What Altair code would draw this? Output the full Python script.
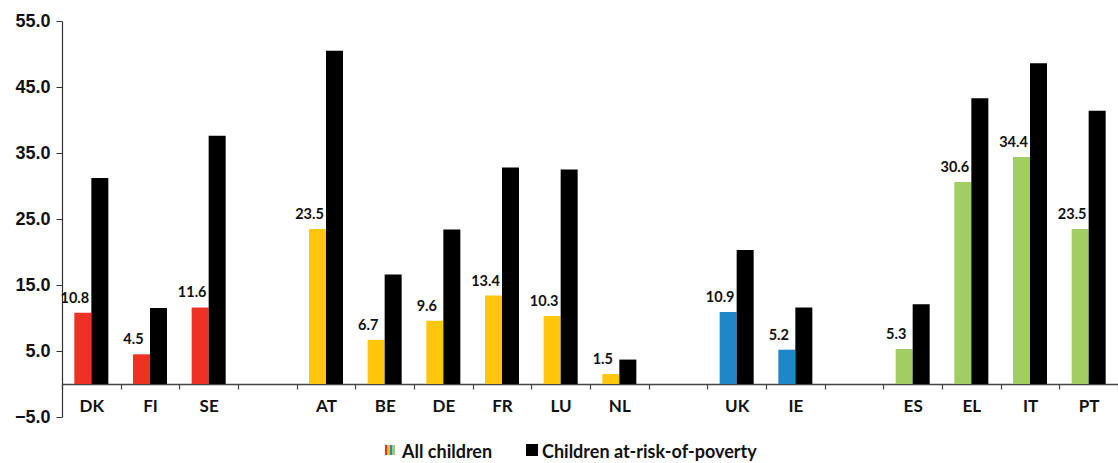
import altair as alt
import pandas as pd

# Country slots in display order; blank slots separate the country groups
slots = ["DK", "FI", "SE", " ", "AT", "BE", "DE", "FR", "LU", "NL", "  ",
         "UK", "IE", "   ", "ES", "EL", "IT", "PT"]

countries = ["DK", "FI", "SE", "AT", "BE", "DE", "FR", "LU", "NL",
             "UK", "IE", "ES", "EL", "IT", "PT"]
groups = ["Nordic", "Nordic", "Nordic",
          "Continental", "Continental", "Continental", "Continental", "Continental", "Continental",
          "Anglo", "Anglo",
          "Southern", "Southern", "Southern", "Southern"]
all_children = [10.8, 4.5, 11.6, 23.5, 6.7, 9.6, 13.4, 10.3, 1.5,
                10.9, 5.2, 5.3, 30.6, 34.4, 23.5]
at_risk = [31.2, 11.5, 37.6, 50.5, 16.6, 23.4, 32.8, 32.5, 3.7,
           20.3, 11.6, 12.1, 43.3, 48.6, 41.4]

series = ["All children", "Children at-risk-of-poverty"]
color_keys = ["Nordic", "Continental", "Anglo", "Southern", "Poverty"]
color_values = ["#EE3124", "#FFC60B", "#1F87C9", "#A1CE62", "#000000"]

rows = []
for c, g, a, p in zip(countries, groups, all_children, at_risk):
    rows.append({"country": c, "series": series[0], "value": a, "key": g,
                 "label": f"{a:.1f}"})
    rows.append({"country": c, "series": series[1], "value": p, "key": "Poverty",
                 "label": ""})
df = pd.DataFrame(rows)

W, H = 1056, 396
label_font = "Lato"

x_enc = alt.X(
    "country:N",
    sort=slots,
    scale=alt.Scale(domain=slots, paddingInner=0, paddingOuter=0),
    axis=alt.Axis(
        title=None, orient="bottom", offset=-33, tickBand="extent",
        labelAngle=0, labelFont=label_font, labelFontWeight="bold",
        labelFontSize=17, labelColor="#111111", labelPadding=9,
        tickSize=5, tickColor="#444444", domainColor="#444444",
        domainWidth=1.5, tickWidth=1.2,
    ),
)
xoff_enc = alt.XOffset(
    "series:N",
    scale=alt.Scale(domain=series, paddingInner=0, paddingOuter=0.725),
)
y_scale = alt.Scale(domain=[-5, 55], nice=False, zero=False)

bars = alt.Chart(df).mark_bar(size=17).encode(
    x=x_enc,
    xOffset=xoff_enc,
    y=alt.Y(
        "value:Q",
        scale=y_scale,
        axis=alt.Axis(
            title=None, values=[-5, 5, 15, 25, 35, 45, 55], format=".1f",
            grid=False, labelFont="Liberation Sans", labelFontWeight="bold",
            labelFontSize=18, labelColor="#111111", labelPadding=6,
            tickSize=6, tickColor="#333333", domainColor="#333333",
            domainWidth=1.2,
        ),
    ),
    y2=alt.datum(0),
    color=alt.Color("key:N", scale=alt.Scale(domain=color_keys, range=color_values),
                    legend=None),
)

value_labels = alt.Chart(df).transform_filter(
    alt.datum.series == series[0]
).mark_text(
    baseline="bottom", align="center", dx=-8, dy=-7,
    font=label_font, fontWeight="bold", fontSize=14.5, color="#111111",
).encode(
    x=alt.X("country:N", sort=slots, scale=alt.Scale(domain=slots)),
    xOffset=alt.XOffset("series:N", scale=alt.Scale(domain=series)),
    y=alt.Y("value:Q", scale=y_scale),
    text="label:N",
)

# Legend drawn below the plot
one = pd.DataFrame({"k": [0]})
legend_layers = []
stripe_colors = color_values[:4]
for i, col in enumerate(stripe_colors):
    legend_layers.append(
        alt.Chart(one).mark_rect(color=col).encode(
            x=alt.value(323 + i * 2.5), x2=alt.value(323 + (i + 1) * 2.5),
            y=alt.value(424), y2=alt.value(434),
        )
    )
legend_layers.append(
    alt.Chart(one).mark_rect(color="#000000").encode(
        x=alt.value(464), x2=alt.value(476), y=alt.value(423), y2=alt.value(435),
    )
)
legend_layers.append(
    alt.Chart(one).mark_text(
        align="left", baseline="alphabetic", font=label_font, fontWeight="bold",
        fontSize=18, color="#111111",
    ).encode(x=alt.value(340), y=alt.value(437), text=alt.value(series[0]))
)
legend_layers.append(
    alt.Chart(one).mark_text(
        align="left", baseline="alphabetic", font=label_font, fontWeight="bold",
        fontSize=18, color="#111111",
    ).encode(x=alt.value(480), y=alt.value(437), text=alt.value(series[1]))
)

chart = alt.layer(bars, value_labels, *legend_layers).properties(
    width=W, height=H,
    autosize=alt.AutoSizeParams(type="none"),
    padding={"left": 62, "top": 21, "right": 0, "bottom": 46},
    background="white",
).configure_view(stroke=None)

chart.save("out.html", embed_options={"renderer": "svg", "actions": False})
